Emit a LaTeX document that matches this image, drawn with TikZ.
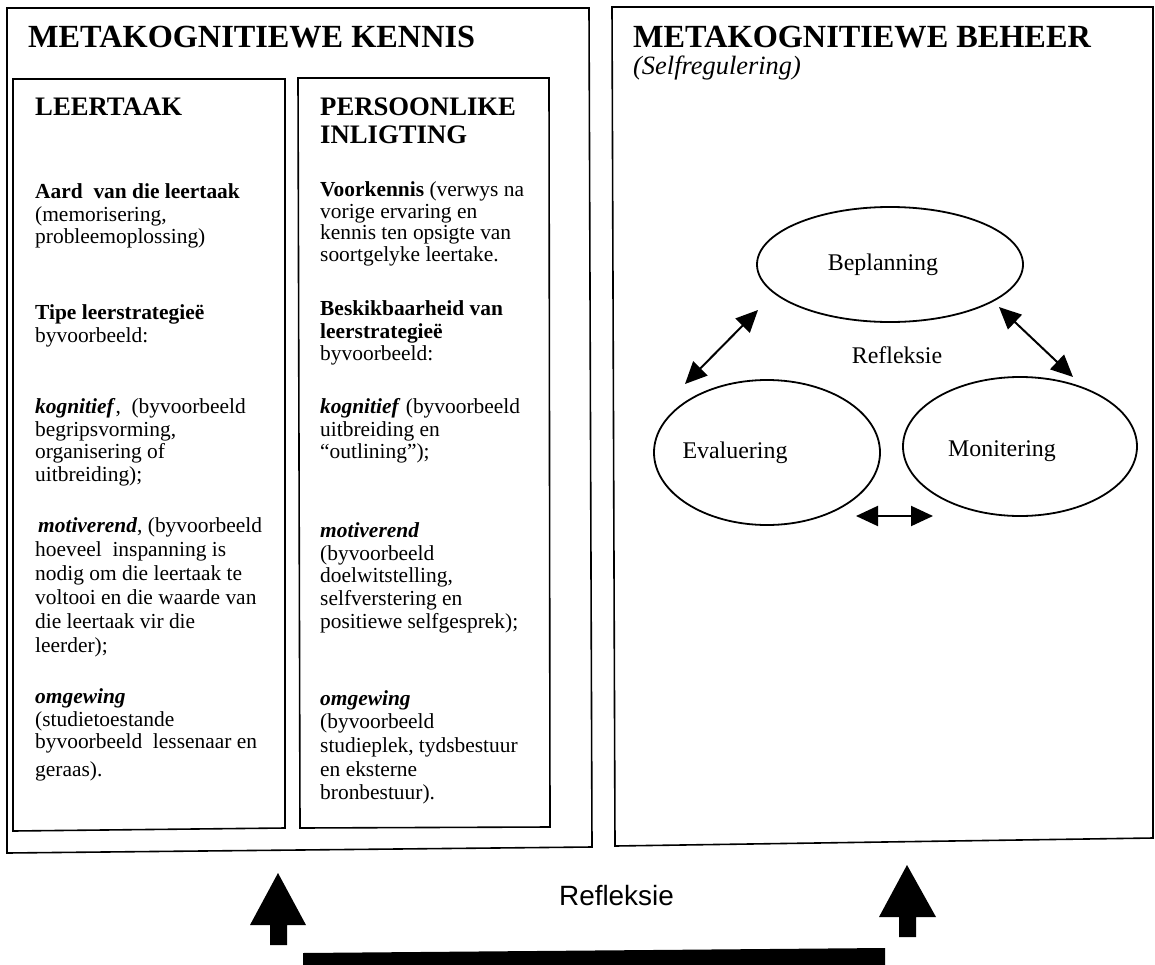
\documentclass[tikz,border=0pt]{standalone}
\usepackage{fontspec}
\setmainfont{Liberation Serif}
\newfontfamily\labelsans{Liberation Sans}
\usetikzlibrary{arrows.meta,shapes.geometric}

\begin{document}
\begin{tikzpicture}[x=1bp,y=-1bp,
  frame/.style={draw=black,line width=1.6bp,line join=miter},
  bighead/.style={anchor=base west,inner sep=0pt,font=\fontsize{32.4}{36}\selectfont\bfseries},
  colhead/.style={anchor=north west,inner sep=0pt,align=left,yshift=19.6bp,
    font=\fontsize{26.8}{28}\selectfont\bfseries},
  para/.style={anchor=north west,inner sep=0pt,align=left,yshift=16.1bp,
    font=\fontsize{21.5}{23}\selectfont},
  phase/.style={draw=black,line width=1.8bp,ellipse,inner sep=0pt},
  phaselabel/.style={anchor=base,inner sep=0pt,font=\fontsize{24}{26}\selectfont},
  link/.style={line width=2bp,{Triangle[length=22bp,width=20bp]}-{Triangle[length=22bp,width=20bp]}},
  solid arrow/.style={fill=black,draw=none}]

\useasboundingbox (0,0) rectangle (1155,965);

% ---------- left panel: metacognitive knowledge ----------
\draw[frame] (7,8) -- (589,8) -- (592,847) -- (7,853) -- cycle;
\draw[frame] (13,79) -- (285,79) -- (285,828) -- (13,831) -- cycle;
\draw[frame] (298,78) -- (549,78) -- (550,827) -- (300,828) -- cycle;

\node[bighead] (kennis) at (28,47) {METAKOGNITIEWE KENNIS};
\node[colhead] (leertaak) at (35,115) {\strut LEERTAAK};
\node[colhead] (persoonlik) at (320,115) {\strut PERSOONLIKE\\INLIGTING};

% task column
\node[para] (aard) at (35,198) {\strut\textbf{Aard\ \ van die leertaak}\\(memorisering,\\probleemoplossing)};
\node[para] (tipe) at (35,319) {\strut\textbf{Tipe leerstrategieë}\\byvoorbeeld:};
\node[para] (kogA) at (35,413) {\strut\textbf{\textit{kognitief}},\ \ (byvoorbeeld\\begripsvorming,\\organisering of\\uitbreiding);};
\node[para,font=\fontsize{21.5}{24.2}\selectfont,yshift=0.8bp] (motA) at (35,532) {\strut\hspace{3bp}\textbf{\textit{motiverend}}, (byvoorbeeld\\hoeveel\ \ inspanning is\\nodig om die leertaak te\\voltooi en die waarde van\\die leertaak vir die\\leerder);};
\node[para] (omgA) at (35,703) {\strut\textbf{\textit{omgewing}}\\(studietoestande\\byvoorbeeld\ \ lessenaar en\\[5bp]geraas).};

% personal column
\node[para,font=\fontsize{21.5}{21.5}\selectfont,yshift=-0.8bp] (voork) at (320,197) {\strut\textbf{Voorkennis} (verwys na\\vorige ervaring en\\kennis ten opsigte van\\soortgelyke leertake.};
\node[para] (beskik) at (320,315) {\strut\textbf{Beskikbaarheid van}\\\textbf{leerstrategieë}\\byvoorbeeld:};
\node[para] (kogB) at (320,413) {\strut\textbf{\textit{kognitief}} (byvoorbeeld\\uitbreiding en\\“outlining”);};
\node[para] (motB) at (320,537) {\strut\textbf{\textit{motiverend}}\\(byvoorbeeld\\doelwitstelling,\\selfverstering en\\positiewe selfgesprek);};
\node[para,font=\fontsize{21.5}{23.8}\selectfont,yshift=0.6bp] (omgB) at (320,705) {\strut\textbf{\textit{omgewing}}\\(byvoorbeeld\\studieplek, tydsbestuur\\en eksterne\\bronbestuur).};

% ---------- right panel: metacognitive control ----------
\draw[frame] (612,7) -- (1153,7) -- (1153,838) -- (615,846) -- cycle;
\node[bighead] (beheer) at (633,47) {METAKOGNITIEWE BEHEER};
\node[anchor=base west,inner sep=0pt,font=\fontsize{26.5}{28}\selectfont\itshape] (selfreg) at (633,74) {(Selfregulering)};

\node[phase,minimum width=266bp,minimum height=115bp] (plan) at (890,264.5) {};
\node[phase,minimum width=226bp,minimum height=145bp] (eval) at (767,452.5) {};
\node[phase,minimum width=234bp,minimum height=139bp] (mon) at (1020,446.5) {};

\node[phaselabel] (planT) at (883,270) {Beplanning};
\node[phaselabel] (evalT) at (735,458) {Evaluering};
\node[phaselabel] (monT) at (1002,456) {Monitering};
\node[phaselabel] (reflT) at (897,363) {Refleksie};

\coordinate (evalNE) at (685,384);
\coordinate (planSW) at (758,310);
\coordinate (planSE) at (999,307);
\coordinate (monNW) at (1073,377);
\coordinate (evalE) at (856,516);
\coordinate (monW) at (933,516);
\draw[link] (evalNE) -- (planSW);
\draw[link] (planSE) -- (monNW);
\draw[link] (evalE) -- (monW);

% ---------- reflection base ----------
\node[anchor=base,inner sep=0pt,font=\labelsans\fontsize{28}{30}\selectfont] (refl) at (616.5,905) {Refleksie};
\fill[solid arrow] (278,873) -- (306,925) -- (287,925) -- (287,945) -- (270,945) -- (270,925) -- (250,925) -- cycle;
\fill[solid arrow] (907,865) -- (936,917) -- (916,917) -- (916,937) -- (899,937) -- (899,917) -- (879,917) -- cycle;
\fill[solid arrow] (303,953) -- (885,948) -- (885,966) -- (303,966) -- cycle;

\end{tikzpicture}
\end{document}
